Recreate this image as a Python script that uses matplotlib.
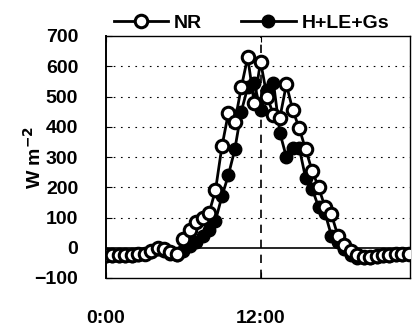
import numpy as np
import matplotlib
matplotlib.use("Agg")
import matplotlib.pyplot as plt

plt.rcParams["font.family"] = ["Liberation Sans", "DejaVu Sans"]
plt.rcParams["font.weight"] = "bold"

# half-hourly energy balance, hours from 0:00
hours = np.arange(0, 24, 0.5)

nr = [-25, -25, -25, -25, -25, -22, -20, -10,
      0, -5, -15, -20, 30, 60, 85, 100,
      115, 190, 335, 445, 415, 530, 630, 480,
      615, 500, 440, 430, 540, 455, 395, 325,
      255, 200, 135, 110, 40, 10, -10, -25,
      -30, -30, -28, -25, -25, -22, -20, -20]

h_le_gs = [-28, -28, -28, -27, -27, -25, -22, -15,
           -5, -10, -20, -25, -10, 5, 20, 40,
           60, 90, 170, 240, 325, 450, 530, 545,
           455, 520, 545, 380, 300, 330, 330, 230,
           195, 135, 115, 40, 20, -5, -25, -35,
           -35, -33, -30, -28, -28, -25, -25, -22]

yticks = [-100, 0, 100, 200, 300, 400, 500, 600, 700]
xticks = [0, 12]
xlabels = ["0:00", "12:00"]

fig = plt.figure(figsize=(4.12, 3.28), dpi=100)
ax = fig.add_axes([106 / 412, 50 / 328, 304 / 412, 242 / 328])

ax.plot(hours, nr, "-o", color="black", lw=2.0, ms=9,
        mfc="white", mec="black", mew=2.2, label="NR", zorder=4)
ax.plot(hours, h_le_gs, "-o", color="black", lw=2.0, ms=9,
        mfc="black", mec="black", label="H+LE+Gs", zorder=3)

ax.axhline(0, color="black", lw=1.2, zorder=2)
ax.axvline(12, color="black", lw=1.2, ls=(0, (5, 4)), zorder=2)
for y in range(100, 700, 100):
    ax.axhline(y, color="black", lw=0.8, ls=(0, (1.5, 5)), zorder=1)

ax.set_xlim(0, 23.6)
ax.set_ylim(-100, 700)
ax.set_yticks(yticks)
ax.set_xticks(xticks)
ax.set_xticklabels(xlabels)
ax.tick_params(axis="both", direction="in", length=4, labelsize=14)
ax.tick_params(axis="y", pad=20)
ax.tick_params(axis="x", pad=23, top=True)

for side in ["top", "right", "bottom"]:
    ax.spines[side].set_linestyle((0, (1, 1)))
    ax.spines[side].set_linewidth(1.0)
ax.spines["left"].set_linewidth(1.4)

ax.set_ylabel("W m$^{\\mathbf{-2}}$", fontsize=14, fontweight="bold")
ax.yaxis.set_label_coords(-0.20, 0.5)

ax.legend(loc="lower left", bbox_to_anchor=(0.0, 0.985), ncol=2,
          frameon=False, fontsize=14, handlelength=2.8, columnspacing=2.0,
          handletextpad=0.3, borderaxespad=0)

fig.savefig("out.png", dpi=100)
